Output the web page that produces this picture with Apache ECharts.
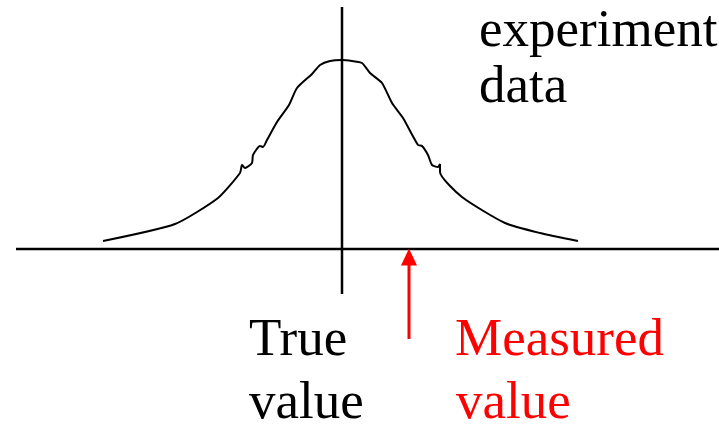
<!DOCTYPE html>
<html>
<head>
<meta charset="utf-8">
<script src="https://cdn.jsdelivr.net/npm/echarts/dist/echarts.min.js"></script>
<style>
  html, body { margin: 0; padding: 0; background: #fff; }
  #chart { width: 719px; height: 426px; }
</style>
</head>
<body>
<div id="chart"></div>
<script>
// distribution of experiment data, x relative to the true value, y height above baseline
var curveX = [-239, -167, -124, -102, -100, -97, -90, -89, -82, -79, -75, -65, -53, -45, -30, -22, -12, 0,
  10, 20, 28, 40, 50, 61, 76, 80, 86, 90, 96, 98, 98, 120, 163, 198, 236]
var curveY = [8, 25, 51, 76, 84, 81, 86, 94, 103, 102, 109, 127, 144, 161, 175, 184, 188, 189,
  188, 186, 176, 166, 146, 131, 104, 103, 94, 84, 82, 85, 77, 52, 26, 16, 8]

var trueValue = 0
var measuredValue = 67
var baseRange = [-326, 377]
var trueRange = [-45, 242]
var arrowRange = [-90, -8]

var labels = {
  data: ['experiment', 'data'],
  trueVal: ['True', 'value'],
  measured: ['Measured', 'value']
}

var curve = curveX.map(function (x, i) { return [x, curveY[i]] })
var font = '53px "Liberation Serif", "Times New Roman", serif'

function txt (s, x, y, color) {
  return { type: 'text', x: x, y: y, style: { text: s, font: font, fill: color, verticalAlign: 'top' } }
}

var chart = echarts.init(document.getElementById('chart'))
chart.setOption({
  animation: false,
  grid: { left: 0, top: 0, width: 719, height: 426 },
  xAxis: { type: 'value', min: -342, max: 377, show: false },
  yAxis: { type: 'value', min: -177, max: 249, show: false },
  series: [{
    type: 'line',
    data: curve,
    smooth: 0.2,
    showSymbol: false,
    lineStyle: { color: '#000', width: 2 }
  }, {
    type: 'line',
    data: [[baseRange[0], 0], [baseRange[1], 0]],
    showSymbol: false,
    lineStyle: { color: '#000', width: 2.5 }
  }, {
    type: 'line',
    data: [[trueValue, trueRange[0]], [trueValue, trueRange[1]]],
    showSymbol: false,
    lineStyle: { color: '#000', width: 2.5 }
  }, {
    type: 'line',
    data: [
      { value: [measuredValue, arrowRange[0]], symbol: 'none' },
      { value: [measuredValue, arrowRange[1]], symbol: 'triangle', symbolSize: [16, 17] }
    ],
    showAllSymbol: true,
    itemStyle: { color: '#ff0000' },
    lineStyle: { color: '#ff0000', width: 3 }
  }],
  graphic: [
    txt(labels.data[0], 479, 6, '#000'),
    txt(labels.data[1], 479, 62, '#000'),
    txt(labels.trueVal[0], 249, 315, '#000'),
    txt(labels.trueVal[1], 249, 378, '#000'),
    txt(labels.measured[0], 455, 315, '#ff0000'),
    txt(labels.measured[1], 456, 378, '#ff0000')
  ]
})
</script>
</body>
</html>
